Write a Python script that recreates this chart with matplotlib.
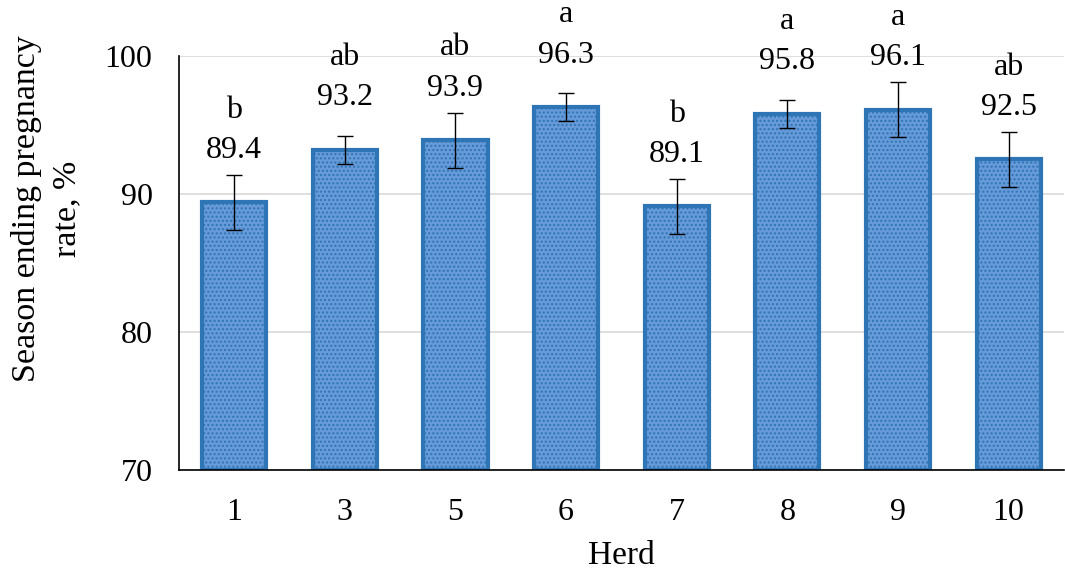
import matplotlib.pyplot as plt

herds = ["1", "3", "5", "6", "7", "8", "9", "10"]
rates = [89.4, 93.2, 93.9, 96.3, 89.1, 95.8, 96.1, 92.5]
errors = [2.0, 1.0, 2.0, 1.0, 2.0, 1.0, 2.0, 2.0]
letters = ["b", "ab", "ab", "a", "b", "a", "a", "ab"]

plt.rcParams['font.family'] = ['Liberation Serif', 'DejaVu Serif']

fig = plt.figure(figsize=(10.65, 5.71), dpi=100)
ax = fig.add_axes([0.168, 0.177, 0.831, 0.725])

x = list(range(len(herds)))
base = 70
ax.bar(x, [r - base for r in rates], bottom=base, width=0.58,
       color='#679ad8', edgecolor='#2e75b6', hatch='....', linewidth=3, zorder=2)
ax.errorbar(x, rates, yerr=errors, fmt='none', ecolor='black',
            elinewidth=1, capsize=6, capthick=1, zorder=3)

# labels sit at a fixed distance above the bar top (like the Excel original)
for xi, r, lt in zip(x, rates, letters):
    ax.annotate(f"{r:.1f}", (xi, r), xytext=(0, 32), textcoords='offset points',
                ha='center', va='baseline', fontsize=23, annotation_clip=False)
    ax.annotate(lt, (xi, r), xytext=(0, 61), textcoords='offset points',
                ha='center', va='baseline', fontsize=23, annotation_clip=False)

ax.set_xlim(-0.5, len(herds) - 0.5)
ax.set_ylim(70, 100)
ax.set_yticks([70, 80, 90, 100])
ax.set_xticks(x)
ax.set_xticklabels(herds)
ax.tick_params(axis='both', length=0, labelsize=23)
ax.tick_params(axis='y', pad=19)
ax.tick_params(axis='x', pad=20)
ax.yaxis.grid(True, color='#d9d9d9', linewidth=1.2, zorder=0)
ax.set_axisbelow(True)
for s in ['top', 'right']:
    ax.spines[s].set_visible(False)
ax.spines['left'].set_linewidth(1.2)
ax.spines['bottom'].set_linewidth(1.2)

ax.set_xlabel("Herd", fontsize=24, labelpad=10)
fig.text(0.044, 0.634, "Season ending pregnancy\nrate, %", rotation=90,
         ha='center', va='center', multialignment='center', fontsize=24.5,
         linespacing=1.4)

fig.savefig("out.png", dpi=100)
